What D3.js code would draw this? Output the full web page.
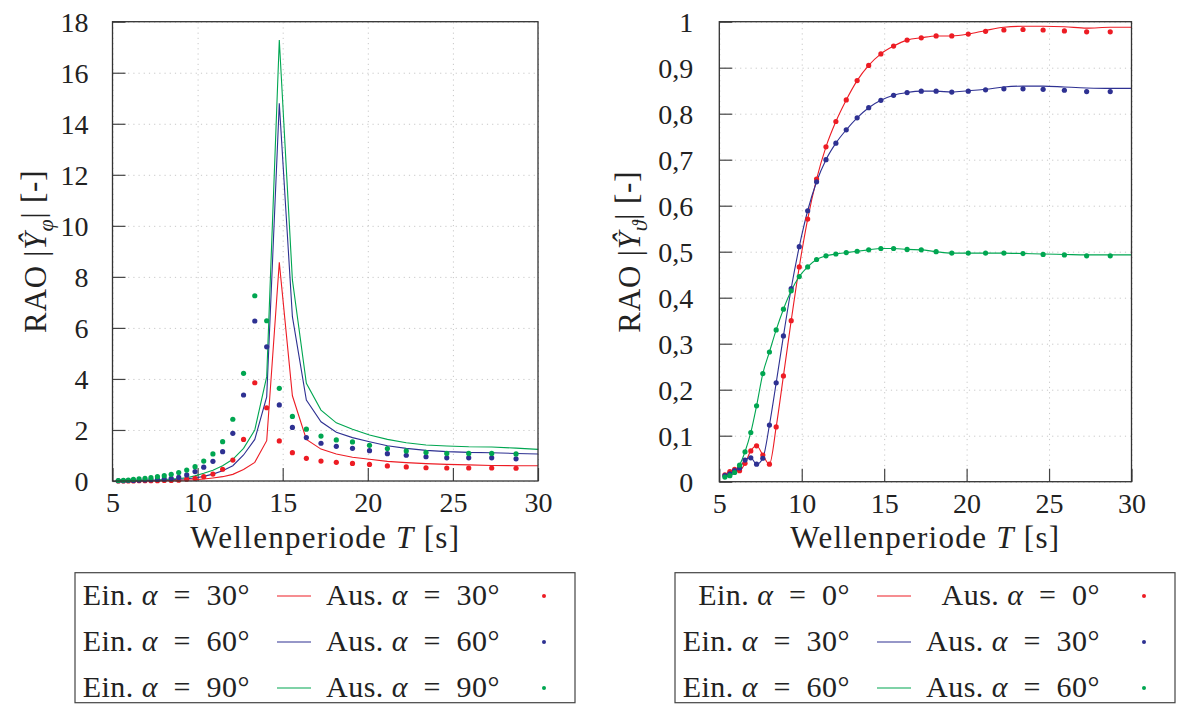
<!DOCTYPE html>
<html>
<head>
<meta charset="utf-8">
<script src="https://cdnjs.cloudflare.com/ajax/libs/d3/7.8.5/d3.min.js"></script>
<style>
  body { margin: 0; background: #fff; }
  svg, svg text { font-family: "Liberation Serif", "DejaVu Serif", serif; }
  .tick text { font-size: 28px; fill: #222; font-family: "Liberation Serif", serif; }
  .grid line { stroke: #c8c8c8; stroke-dasharray: 1.2 4; }
</style>
</head>
<body>
<div id="chart"></div>
<script>
// wave periods of the measured points (same for both panels)
const T = [5.34, 5.64, 5.93, 6.23, 6.56, 6.91, 7.26, 7.64, 8.04, 8.45, 8.89, 9.36, 9.85, 10.36,
           10.90, 11.47, 12.07, 12.70, 13.36, 14.06, 14.80, 15.57, 16.39, 17.25, 18.15, 19.10,
           20.10, 21.15, 22.26, 23.42, 24.64, 25.93, 27.28, 28.71]
const lineT = [...T, 30]

// left panel: roll RAO, Ein. (lines) / Aus. (dots)
const rollEin30 = [0, 0, 0, 0, 0, 0.01, 0.01, 0.01, 0.02, 0.02, 0.03, 0.04, 0.05, 0.08, 0.12, 0.17, 0.26,
                   0.45, 0.73, 1.58, 8.57, 3.34, 1.63, 1.25, 1.06, 0.93, 0.85, 0.77, 0.72, 0.68, 0.65,
                   0.63, 0.61, 0.60, 0.60]
const rollEin60 = [0, 0, 0, 0.01, 0.01, 0.02, 0.02, 0.03, 0.04, 0.05, 0.07, 0.09, 0.12, 0.18, 0.27, 0.40,
                   0.60, 1.02, 1.63, 3.30, 14.8, 6.44, 3.17, 2.32, 1.91, 1.70, 1.54, 1.38, 1.28, 1.20,
                   1.15, 1.12, 1.11, 1.08, 1.06]
const rollEin90 = [0, 0, 0, 0.01, 0.01, 0.02, 0.03, 0.04, 0.06, 0.08, 0.10, 0.13, 0.20, 0.30, 0.42, 0.60,
                   0.85, 1.28, 2.00, 4.09, 17.28, 7.88, 3.83, 2.78, 2.28, 2.03, 1.80, 1.63, 1.50, 1.41,
                   1.37, 1.34, 1.33, 1.29, 1.24]
const rollAus30 = [0, 0, 0, 0, 0.01, 0.01, 0.01, 0.01, 0.02, 0.02, 0.03, 0.07, 0.10, 0.17, 0.27, 0.46,
                   0.82, 1.63, 3.85, 2.87, 1.57, 1.11, 0.89, 0.78, 0.73, 0.69, 0.65, 0.59, 0.55, 0.52,
                   0.51, 0.51, 0.51, 0.50]
const rollAus60 = [0.01, 0.01, 0.02, 0.02, 0.03, 0.04, 0.05, 0.06, 0.08, 0.10, 0.14, 0.24, 0.37, 0.54,
                   0.77, 1.15, 1.87, 3.37, 6.27, 5.26, 2.98, 2.10, 1.70, 1.48, 1.36, 1.28, 1.19, 1.07,
                   1.01, 0.95, 0.91, 0.91, 0.91, 0.87]
const rollAus90 = [0.02, 0.03, 0.04, 0.06, 0.08, 0.10, 0.13, 0.17, 0.21, 0.26, 0.33, 0.43, 0.56, 0.78,
                   1.06, 1.54, 2.42, 4.22, 7.26, 6.28, 3.63, 2.53, 2.03, 1.76, 1.61, 1.53, 1.40, 1.27,
                   1.18, 1.12, 1.08, 1.08, 1.08, 1.06]

// right panel: pitch RAO
const pitchEin0 = [0.015, 0.022, 0.027, 0.024, 0.040, 0.067, 0.078, 0.058, 0.038, 0.119, 0.230, 0.350,
                   0.467, 0.571, 0.658, 0.728, 0.783, 0.830, 0.872, 0.905, 0.930, 0.947, 0.960, 0.965,
                   0.969, 0.969, 0.973, 0.981, 0.988, 0.990, 0.990, 0.989, 0.986, 0.988, 0.988]
const pitchEin30 = [0.013, 0.017, 0.024, 0.030, 0.047, 0.052, 0.038, 0.051, 0.123, 0.215, 0.317, 0.420,
                    0.511, 0.589, 0.652, 0.700, 0.736, 0.765, 0.791, 0.813, 0.829, 0.840, 0.846, 0.849,
                    0.849, 0.847, 0.850, 0.853, 0.858, 0.860, 0.860, 0.858, 0.856, 0.855, 0.855]
const pitchEin60 = [0.010, 0.013, 0.020, 0.036, 0.065, 0.107, 0.165, 0.235, 0.282, 0.330, 0.375, 0.415,
                    0.446, 0.467, 0.483, 0.491, 0.495, 0.498, 0.501, 0.504, 0.507, 0.507, 0.505, 0.504,
                    0.500, 0.497, 0.497, 0.497, 0.497, 0.496, 0.495, 0.494, 0.493, 0.493, 0.493]
const pitchAus0 = [0.015, 0.022, 0.027, 0.024, 0.040, 0.067, 0.078, 0.058, 0.038, 0.119, 0.230, 0.350,
                   0.467, 0.571, 0.658, 0.728, 0.783, 0.830, 0.872, 0.905, 0.930, 0.947, 0.960, 0.965,
                   0.969, 0.969, 0.973, 0.979, 0.982, 0.983, 0.982, 0.980, 0.978, 0.978]
const pitchAus30 = [0.013, 0.017, 0.024, 0.030, 0.047, 0.052, 0.038, 0.051, 0.123, 0.215, 0.317, 0.420,
                    0.511, 0.589, 0.652, 0.700, 0.736, 0.765, 0.791, 0.813, 0.829, 0.840, 0.846, 0.849,
                    0.849, 0.847, 0.849, 0.852, 0.854, 0.854, 0.853, 0.851, 0.848, 0.848]
const pitchAus60 = [0.010, 0.013, 0.020, 0.036, 0.065, 0.107, 0.165, 0.235, 0.282, 0.330, 0.375, 0.415,
                    0.446, 0.467, 0.483, 0.491, 0.495, 0.498, 0.501, 0.504, 0.507, 0.507, 0.505, 0.504,
                    0.500, 0.497, 0.497, 0.497, 0.497, 0.496, 0.494, 0.493, 0.491, 0.491]

const xTicks = [5, 10, 15, 20, 25, 30]
const yTicksLeft = [0, 2, 4, 6, 8, 10, 12, 14, 16, 18]
const yTicksRight = [0, 0.1, 0.2, 0.3, 0.4, 0.5, 0.6, 0.7, 0.8, 0.9, 1]
const anglesLeft = ['30', '60', '90']
const anglesRight = ['0', '30', '60']

const colors = ['#ed1c24', '#2e3192', '#00a651']

const svg = d3.select('#chart')
  .append('svg')
  .attr('width', 1184)
  .attr('height', 713)

const deLocale = d3.formatLocale({decimal: ',', thousands: '.', grouping: [3], currency: ['', '€']})
const fmtComma = deLocale.format('~g')
const EQ = '\u2002=\u2002'

function panel(o) {
  const x = d3.scaleLinear().domain([5, 30]).range([o.left, o.right])
  const y = d3.scaleLinear().domain(o.yDomain).range([o.bottom, o.top])
  const g = svg.append('g')

  // dotted grid
  g.append('g')
    .attr('class', 'grid')
    .attr('transform', `translate(0, ${o.bottom})`)
    .call(d3.axisBottom(x).tickValues(xTicks).tickSize(-(o.bottom - o.top)).tickFormat(''))
    .call(s => s.select('.domain').remove())
  g.append('g')
    .attr('class', 'grid')
    .attr('transform', `translate(${o.left}, 0)`)
    .call(d3.axisLeft(y).tickValues(o.yTicks).tickSize(-(o.right - o.left)).tickFormat(''))
    .call(s => s.select('.domain').remove())

  // axes with inward ticks
  g.append('g')
    .attr('transform', `translate(0, ${o.bottom})`)
    .call(d3.axisBottom(x).tickValues(xTicks).tickSize(-13).tickPadding(11))
    .attr('font-family', null)
    .call(s => s.select('.domain').remove())
    .call(s => s.selectAll('.tick line').attr('stroke', '#444').attr('stroke-width', 1.2))
  g.append('g')
    .attr('transform', `translate(${o.left}, 0)`)
    .call(d3.axisLeft(y).tickValues(o.yTicks).tickSize(-13).tickPadding(o.pad).tickFormat(o.fmt))
    .attr('font-family', null)
    .call(s => s.select('.domain').remove())
    .call(s => s.selectAll('.tick line').attr('stroke', '#444').attr('stroke-width', 1.2))
    .call(s => s.selectAll('.tick text').attr('dy', '0.34em'))

  // lines
  const line = d3.line().x((d, i) => x(lineT[i])).y(d => y(d)).curve(o.curve)
  o.lines.forEach((vals, k) => {
    g.append('path')
      .datum(vals)
      .attr('d', line)
      .attr('fill', 'none')
      .attr('stroke', colors[k])
      .attr('stroke-width', 1.1)
  })
  // dots
  o.dots.forEach((vals, k) => {
    g.append('g').selectAll('circle')
      .data(vals).enter()
      .append('circle')
        .attr('cx', (d, i) => x(T[i]))
        .attr('cy', d => y(d))
        .attr('r', 2.6)
        .attr('fill', colors[k])
  })

  // frame
  g.append('rect')
    .attr('x', o.left).attr('y', o.top)
    .attr('width', o.right - o.left).attr('height', o.bottom - o.top)
    .attr('fill', 'none').attr('stroke', '#333').attr('stroke-width', 1.3)

  // x label
  const xl = g.append('text')
    .attr('x', (o.left + o.right) / 2).attr('y', 548)
    .attr('text-anchor', 'middle').attr('font-size', 31).attr('letter-spacing', 1.3)
    .attr('fill', '#222')
  xl.append('tspan').text('Wellenperiode ')
  xl.append('tspan').attr('font-style', 'italic').text('T')
  xl.append('tspan').text(' [s]')

  // y label
  const yl = g.append('text')
    .attr('transform', `translate(${o.yLabelX}, ${(o.top + o.bottom) / 2}) rotate(-90)`)
    .attr('text-anchor', 'middle').attr('font-size', 31).attr('letter-spacing', 0.8)
    .attr('fill', '#222')
  yl.append('tspan').text('RAO |')
  yl.append('tspan').attr('font-style', 'italic').text('Ŷ')
  yl.append('tspan').attr('font-style', 'italic').attr('font-size', 22).attr('dy', '0.3em').text(o.sub)
  yl.append('tspan').attr('dy', '-0.3em').text('| [-]')

  // legend
  const lg = g.append('g')
  lg.append('rect')
    .attr('x', o.legX0).attr('y', 572.7)
    .attr('width', o.legX1 - o.legX0).attr('height', 130)
    .attr('fill', 'none').attr('stroke', '#444').attr('stroke-width', 1.2)
  o.angles.forEach((a, k) => {
    const yy = 605 + k * 46
    const t1 = lg.append('text').attr('x', o.legEin).attr('y', yy)
      .attr('text-anchor', 'end').attr('font-size', 30).attr('letter-spacing', 0.5)
      .attr('fill', '#222')
    t1.append('tspan').text('Ein. ')
    t1.append('tspan').attr('font-style', 'italic').text('α')
    t1.append('tspan').text(`${EQ}${a}°`)
    lg.append('line')
      .attr('x1', o.legLine).attr('x2', o.legLine + 34)
      .attr('y1', yy - 9).attr('y2', yy - 9)
      .attr('stroke', colors[k]).attr('stroke-width', 1.2)
    const t2 = lg.append('text').attr('x', o.legAus).attr('y', yy)
      .attr('text-anchor', 'end').attr('font-size', 30).attr('letter-spacing', 0.5)
      .attr('fill', '#222')
    t2.append('tspan').text('Aus. ')
    t2.append('tspan').attr('font-style', 'italic').text('α')
    t2.append('tspan').text(`${EQ}${a}°`)
    lg.append('circle')
      .attr('cx', o.legDot).attr('cy', yy - 9).attr('r', 2)
      .attr('fill', colors[k])
  })
}

panel({
  left: 112.5, right: 538, top: 21.7, bottom: 481,
  yDomain: [0, 18], yTicks: yTicksLeft, fmt: d3.format('d'), pad: 24,
  lines: [rollEin30, rollEin60, rollEin90],
  dots: [rollAus30, rollAus60, rollAus90],
  curve: d3.curveLinear,
  sub: 'φ', yLabelX: 46,
  legX0: 75, legX1: 575, legEin: 250, legLine: 277, legAus: 500, legDot: 544,
  angles: anglesLeft
})

panel({
  left: 719.3, right: 1131.5, top: 21.7, bottom: 481.7,
  yDomain: [0, 1], yTicks: yTicksRight, fmt: fmtComma, pad: 26,
  lines: [pitchEin0, pitchEin30, pitchEin60],
  dots: [pitchAus0, pitchAus30, pitchAus60],
  curve: d3.curveMonotoneX,
  sub: 'ϑ', yLabelX: 640,
  legX0: 675, legX1: 1175, legEin: 850, legLine: 877, legAus: 1100, legDot: 1144,
  angles: anglesRight
})
</script>
</body>
</html>
